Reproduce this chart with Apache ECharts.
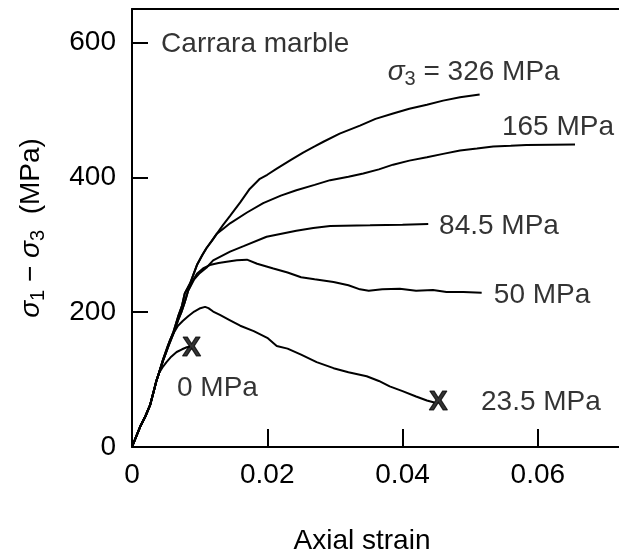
<!DOCTYPE html>
<html>
<head>
<meta charset="utf-8">
<script src="https://cdn.jsdelivr.net/npm/echarts@6/dist/echarts.min.js"></script>
<style>html,body{margin:0;padding:0;background:#fff;}#c{width:619px;height:557px;}</style>
</head>
<body>
<div id="c"></div>
<script>
// ---- data (axial strain, sigma1 - sigma3 in MPa) ----
const commonStart = [[0,0],[0.0006,15],[0.0012,30],[0.0020,46],[0.0027,63],[0.0033,86],[0.0036,98],[0.0040,110]];
const curve0 = [[0.0045,118],[0.0051,126],[0.0058,134],[0.0066,141],[0.0074,145],[0.0081,148],[0.0086,149]];
const curve23_5 = [[0.0046,128],[0.0051,142],[0.0056,158],[0.0062,170],[0.0068,180],[0.0075,187],[0.0083,194],[0.0092,201],[0.0101,206],[0.0108,208],[0.0113,206],[0.0120,201],[0.0130,196],[0.0145,188],[0.0160,180],[0.0180,172],[0.0200,162],[0.0214,150],[0.0230,146],[0.0250,137],[0.0273,126],[0.0298,117],[0.0320,111],[0.0347,105],[0.0365,98],[0.0381,90],[0.0400,83],[0.0420,75],[0.0436,69],[0.0447,66]];
const midStem = [[0.0046,129],[0.0054,150],[0.0061,168],[0.0068,188],[0.0073,200],[0.0078,215],[0.0083,232]];
const curve50 = [[0.0090,247],[0.0096,257],[0.0105,265],[0.0115,270],[0.0128,273],[0.0140,275],[0.0155,277],[0.0170,278],[0.0185,272],[0.0209,265],[0.0230,259],[0.0250,252],[0.0270,249],[0.0298,245],[0.0320,240],[0.0337,234],[0.0350,232],[0.0370,234],[0.0396,235],[0.0420,232],[0.0445,233],[0.0465,230],[0.0490,230],[0.0517,229]];
const curve84_5 = [[0.0092,249],[0.0100,258],[0.0110,266],[0.0120,277],[0.0145,290],[0.0165,298],[0.0199,312],[0.0243,321],[0.0268,325],[0.0293,328],[0.0352,329],[0.0400,330],[0.0438,331]];
const stiffStem = [[0.0046,130],[0.0053,150],[0.0061,170],[0.0068,193],[0.0074,210],[0.0078,228],[0.0086,243],[0.0096,270],[0.0104,285],[0.0110,295],[0.0118,306],[0.0125,316]];
const curve165 = [[0.0135,324],[0.0145,332],[0.0170,348],[0.0194,362],[0.0220,373],[0.0243,381],[0.0270,389],[0.0293,396],[0.0320,401],[0.0342,406],[0.0365,412],[0.0386,419],[0.0410,425],[0.0436,430],[0.0460,435],[0.0485,440],[0.0510,443],[0.0534,446],[0.0560,447],[0.0583,448],[0.0620,448.5],[0.0655,449]];
const curve326 = [[0.0135,330],[0.0145,343],[0.0160,363],[0.0174,383],[0.0189,398],[0.0200,404],[0.0214,413],[0.0235,426],[0.0253,437],[0.0270,446],[0.0283,453],[0.0307,465],[0.0337,477],[0.0360,487],[0.0386,495],[0.0410,502],[0.0436,508],[0.0460,514],[0.0485,519],[0.0514,523]];

const failureX = [0.0088, 0.0453];
const failureY = [147, 66];

const annText = ['Carrara marble', '{i|σ}{s|3} = 326 MPa', '165 MPa', '84.5 MPa', '50 MPa', '23.5 MPa', '0 MPa'];
const annX = [0.0043, 0.0378, 0.0547, 0.0454, 0.0535, 0.0516, 0.00665];
const annY = [597, 556, 474, 328, 225, 66, 87];

const xTicks = { min: 0, max: 0.0723, interval: 0.02 };
const yTicks = { min: 0, max: 650, interval: 200 };

// ---- chart ----
const FONT = '"Liberation Sans", Arial, Helvetica, sans-serif';
const INK = '#000';
const FS = 28;

const curves = [
  commonStart.concat(curve0),
  commonStart.concat(curve23_5),
  commonStart.concat(midStem, curve50),
  commonStart.concat(midStem, curve84_5),
  commonStart.concat(stiffStem, curve165),
  commonStart.concat(stiffStem, curve326)
];

const lineSeries = curves.map(d => ({
  type: 'line', data: d, showSymbol: false, symbol: 'none',
  lineStyle: { color: INK, width: 2 }, silent: true, z: 3
}));

const rich = {
  i: { fontStyle: 'italic', fontSize: FS, fontFamily: FONT, color: INK },
  s: { fontSize: 20, fontFamily: FONT, color: INK, padding: [14, 0, 0, 0] }
};

const annSeries = {
  type: 'scatter', symbolSize: 0, silent: true, z: 5,
  data: annText.map((t, k) => ({ value: [annX[k], annY[k]], label: { formatter: t } })),
  label: { show: true, position: 'right', distance: 0, color: INK, fontSize: FS, fontFamily: FONT, rich: rich, align: 'left', verticalAlign: 'middle' }
};

const failSeries = {
  type: 'scatter', symbolSize: 0, silent: true, z: 6,
  data: failureX.map((x, k) => [x, failureY[k]]),
  label: { show: true, position: 'inside', formatter: 'X', color: INK, fontSize: 28, fontWeight: 'bold', fontFamily: FONT,
    textBorderColor: INK, textBorderWidth: 1.2 }
};

const axisLine = { show: true, lineStyle: { color: INK, width: 2 } };

const option = {
  animation: false,
  backgroundColor: '#fff',
  grid: { left: 132, right: -2, top: 9, bottom: 110, containLabel: false, outerBoundsMode: 'none' },
  xAxis: [{
    type: 'value', min: xTicks.min, max: xTicks.max, interval: xTicks.interval,
    axisLine: axisLine,
    axisTick: { show: true, inside: true, length: 18, lineStyle: { color: INK, width: 2 } },
    splitLine: { show: false },
    axisLabel: { fontSize: FS, fontFamily: FONT, color: INK, margin: 14, showMaxLabel: false,
      formatter: v => v === 0 ? '0' : v.toFixed(2) },
    name: 'Axial strain', nameLocation: 'middle', nameGap: 80,
    nameTextStyle: { fontSize: FS, fontFamily: FONT, color: INK, padding: [0, 29, 0, 0] }
  }, {
    type: 'value', position: 'top', min: xTicks.min, max: xTicks.max,
    axisLine: axisLine, axisTick: { show: false }, axisLabel: { show: false }, splitLine: { show: false }
  }],
  yAxis: {
    type: 'value', min: yTicks.min, max: yTicks.max, interval: yTicks.interval,
    axisLine: axisLine,
    axisTick: { show: true, inside: true, length: 16, lineStyle: { color: INK, width: 2 } },
    splitLine: { show: false },
    axisLabel: { fontSize: FS, fontFamily: FONT, color: INK, margin: 16, showMaxLabel: false },
    name: '{i|σ}{s|1} − {i|σ}{s|3}  (MPa)', nameLocation: 'middle', nameGap: 84,
    nameTextStyle: { fontSize: FS, fontFamily: FONT, color: INK, rich: rich }
  },
  series: lineSeries.concat([annSeries, failSeries])
};

const chart = echarts.init(document.getElementById('c'), null, { renderer: 'canvas' });
chart.setOption(option);
</script>
</body>
</html>
